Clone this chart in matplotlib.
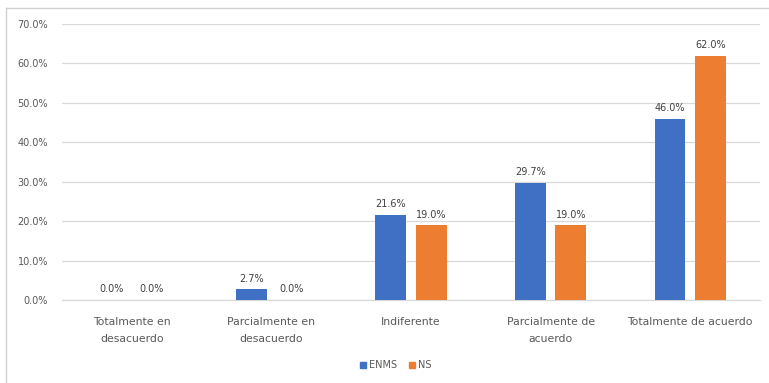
import matplotlib
matplotlib.use("Agg")
import matplotlib.pyplot as plt
import numpy as np
from matplotlib.lines import Line2D

categories = ["Totalmente en\ndesacuerdo", "Parcialmente en\ndesacuerdo", "Indiferente",
              "Parcialmente de\nacuerdo", "Totalmente de acuerdo"]
enms = [0.0, 2.7, 21.6, 29.7, 46.0]
ns = [0.0, 0.0, 19.0, 19.0, 62.0]
series_names = ["ENMS", "NS"]
yticks = [0, 10, 20, 30, 40, 50, 60, 70]

blue = "#4070C4"
orange = "#ED7D31"
text_col = "#595959"
grid_col = "#D9D9D9"

plt.rcParams["font.family"] = ["DejaVu Sans"]

fig = plt.figure(figsize=(7.69, 3.83), dpi=100)
ax = fig.add_axes([62 / 769, 1 - 300 / 383, (760 - 62) / 769, (300 - 24) / 383])

x = np.arange(len(categories))
w = 0.22
off = 0.145
b1 = ax.bar(x - off, enms, w, color=blue, label=series_names[0], zorder=3)
b2 = ax.bar(x + off, ns, w, color=orange, label=series_names[1], zorder=3)

for bars, vals in ((b1, enms), (b2, ns)):
    for r, v in zip(bars, vals):
        ax.annotate(f"{v:.1f}%", (r.get_x() + r.get_width() / 2, v),
                    xytext=(0, 4), textcoords="offset points",
                    ha="center", va="bottom", fontsize=7, color="#404040")

ax.set_xlim(-0.5, len(categories) - 0.5)
ax.set_ylim(0, 70)
ax.set_yticks(yticks)
ax.set_yticklabels([f"{t:.1f}%" for t in yticks], fontsize=7, color=text_col)
ax.set_xticks(x)
ax.set_xticklabels(categories, fontsize=7.8, color=text_col, linespacing=1.95)
ax.tick_params(axis="both", length=0)
ax.tick_params(axis="y", pad=10)
ax.tick_params(axis="x", pad=12)
ax.grid(axis="y", color=grid_col, linewidth=0.9, zorder=0)
for s in ("top", "right", "left"):
    ax.spines[s].set_visible(False)
ax.spines["bottom"].set_color(grid_col)
ax.spines["bottom"].set_linewidth(0.9)

handles = [Line2D([], [], marker="s", linestyle="none", markersize=5, color=blue),
           Line2D([], [], marker="s", linestyle="none", markersize=5, color=orange)]
fig.legend(handles, series_names, loc="center", bbox_to_anchor=(395 / 769, 1 - 365 / 383),
           ncol=2, frameon=False, fontsize=7, labelcolor=text_col,
           handletextpad=0.1, columnspacing=1.0, handlelength=1.0)

# chart frame
fig.add_artist(Line2D([6 / 769, 6 / 769], [0, 1 - 8 / 383], transform=fig.transFigure,
                      color="#D0D0D0", linewidth=1.0))
fig.add_artist(Line2D([6 / 769, 1], [1 - 8 / 383, 1 - 8 / 383], transform=fig.transFigure,
                      color="#D0D0D0", linewidth=1.0))

fig.savefig("out.png", dpi=100)
